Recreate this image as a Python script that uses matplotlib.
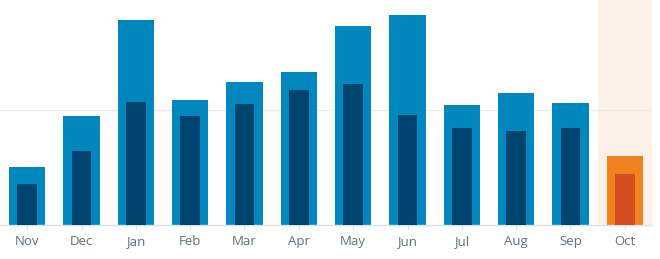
import numpy as np
import matplotlib.pyplot as plt

# --- data ---
months = ["Nov", "Dec", "Jan", "Feb", "Mar", "Apr", "May", "Jun", "Jul", "Aug", "Sep", "Oct"]
views = [50, 94.5, 178.5, 108.7, 124.6, 132.8, 172.8, 182.6, 104.3, 114.5, 106.3, 60.3]
visitors = [36, 64, 107, 94.5, 105, 117.7, 122.9, 95.4, 84.6, 81.7, 84.6, 44.3]
grid_value = 100
y_top = 195.6

# --- colours ---
blue = "#0087be"
dark_blue = "#00456f"
orange = "#f0821e"
dark_orange = "#d54e21"
band = "#fdf0e6"

fig = plt.figure(figsize=(6.6, 2.59), dpi=100)
ax = fig.add_axes([0.0, 34 / 259, 652 / 660, 225 / 259])

x = np.arange(len(months))
last = len(months) - 1

outer_colors = [blue] * last + [orange]
inner_colors = [dark_blue] * last + [dark_orange]

# highlight the current month
ax.bar(x[last], y_top, width=1.0, color=band, zorder=0)
ax.axhline(grid_value, color="#e9ebec", linewidth=1, zorder=1)

ax.bar(x, views, width=0.67, color=outer_colors, zorder=2)
ax.bar(x, visitors, width=0.36, color=inner_colors, zorder=3)

ax.set_xlim(-0.5, len(months) - 0.5)
ax.set_ylim(0, y_top)
ax.set_xticks(x)
ax.set_xticklabels(months, fontfamily="Open Sans", fontsize=9.5, color="#5d7080")
ax.set_yticks([])
ax.tick_params(axis="x", length=3, width=0.8, color="#d8dde1", pad=4)

for side in ["top", "left", "right"]:
    ax.spines[side].set_visible(False)
ax.spines["bottom"].set_color("#dce1e5")
ax.spines["bottom"].set_linewidth(1)

fig.savefig("out.png", dpi=100)
